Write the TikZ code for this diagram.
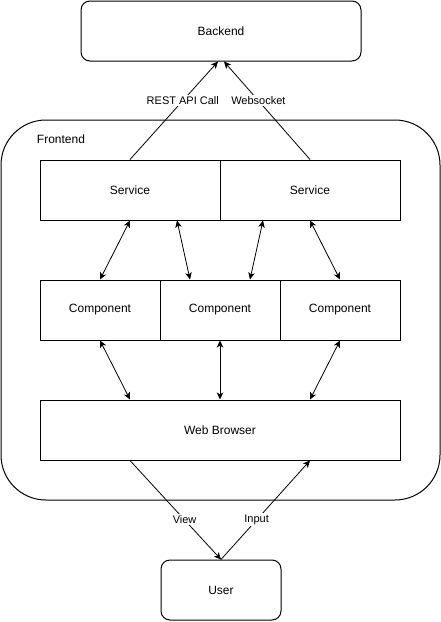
\documentclass[tikz,border=0pt]{standalone}
\usepackage{fontspec}
\setmainfont{Liberation Sans}
\usepackage{tikz}
\usetikzlibrary{arrows,arrows.meta}
\usetikzlibrary{calc}
\tikzset{
	plain box/.style={draw, line width=1pt, minimum width=#1, minimum height=60pt, inner sep=0pt},
	round box/.style={plain box=#1, rounded corners=9pt},
	link/.style={line width=0.8pt, >={Stealth[length=7pt,width=6.5pt,inset=1.8pt]}},
	link label/.style={fill=white, inner sep=1.5pt, font=\fontsize{11}{13}\selectfont}
}

\begin{document}
\begin{tikzpicture}[x=1pt, y=-1pt, font=\fontsize{12}{14}\selectfont]
	\useasboundingbox (0,0) rectangle (441,622);
%
	\node[round box=280pt] (backend) at (221,31) {Backend};
	\node[draw, line width=1pt, rounded corners=45pt, minimum width=439pt, minimum height=380pt] (frontend) at (220.5,310) {};
	\node (frontendlabel) at (61,139) {Frontend};
%
	\node[plain box=180pt] (service1) at (130,190) {Service};
	\node[plain box=180pt] (service2) at (310,190) {Service};
%
	\node[plain box=120pt] (comp1) at (100,310) {Component};
	\node[plain box=120pt] (comp2) at (220,310) {Component};
	\node[plain box=120pt] (comp3) at (340,310) {Component};
%
	\node[plain box=360pt] (browser) at (220,430) {Web Browser};
	\node[round box=120pt] (user) at (221,590) {User};
%
	\draw[link,->] (service1.north) -- node[link label, pos=0.6] {REST API Call} ([xshift=-3pt]backend.south);
	\draw[link,->] (service2.north) -- node[link label, pos=0.6] {Websocket} ([xshift=3pt]backend.south);
%
	\draw[link,<->] (service1.south) -- (comp1.north);
	\draw[link,<->] ([xshift=47pt]service1.south) -- ([xshift=-30pt]comp2.north);
	\draw[link,<->] ([xshift=-47pt]service2.south) -- ([xshift=30pt]comp2.north);
	\draw[link,<->] (service2.south) -- (comp3.north);
%
	\draw[link,<->] (comp1.south) -- ([xshift=-90pt]browser.north);
	\draw[link,<->] (comp2.south) -- (browser.north);
	\draw[link,<->] (comp3.south) -- ([xshift=90pt]browser.north);
%
	\draw[link,->] ([xshift=-90pt]browser.south) -- node[link label, pos=0.6] {View} (user.north);
	\draw[link,->] (user.north) -- node[link label, pos=0.4] {Input} ([xshift=90pt]browser.south);
\end{tikzpicture}
\end{document}
